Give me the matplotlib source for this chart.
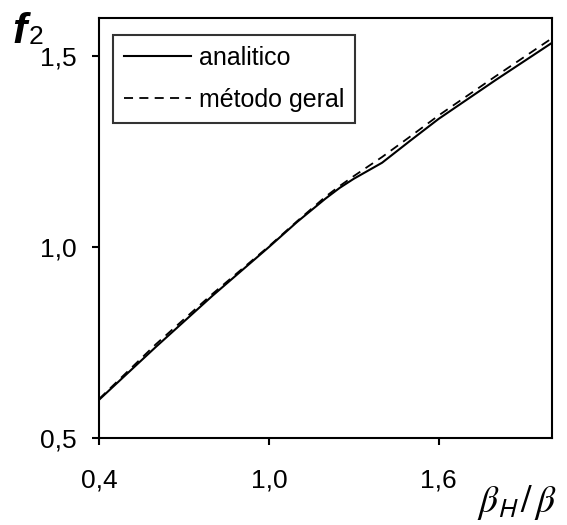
import matplotlib
matplotlib.use("Agg")
import matplotlib.pyplot as plt

plt.rcParams['font.family'] = ['Liberation Sans', 'DejaVu Sans']
plt.rcParams['mathtext.fontset'] = 'stix'

# values
beta_ratio = [0.4, 0.6, 0.8, 1.0, 1.1, 1.2, 1.25, 1.3, 1.4, 1.5, 1.6, 1.8, 2.0]
f2_analitico = [0.600, 0.738, 0.872, 1.000, 1.066, 1.127, 1.155, 1.179, 1.221, 1.279, 1.336, 1.437, 1.535]
f2_geral = [0.602, 0.745, 0.877, 1.002, 1.068, 1.132, 1.160, 1.186, 1.236, 1.290, 1.345, 1.447, 1.547]

xticks = [0.4, 1.0, 1.6]
xtick_labels = ['0,4', '1,0', '1,6']
yticks = [0.5, 1.0, 1.5]
ytick_labels = ['0,5', '1,0', '1,5']

fig = plt.figure(figsize=(5.67, 5.25), dpi=100)
ax = fig.add_axes([0.1746, 0.1657, 0.7989, 0.8000])

ax.plot(beta_ratio, f2_analitico, color='black', lw=1.5, label='analitico')
ax.plot(beta_ratio, f2_geral, color='black', lw=1.3, dashes=(5, 3.5), label='método geral')

ax.set_xlim(0.4, 2.0)
ax.set_ylim(0.5, 1.6)
ax.set_xticks(xticks)
ax.set_xticklabels(xtick_labels)
ax.set_yticks(yticks)
ax.set_yticklabels(ytick_labels)
ax.tick_params(axis='both', direction='out', length=5, width=1.5, labelsize=19, colors='black')
ax.tick_params(axis='x', pad=17)
ax.tick_params(axis='y', pad=11)
for s in ax.spines.values():
    s.set_linewidth(1.5)

leg = ax.legend(loc='upper left', bbox_to_anchor=(0.03, 0.96), fontsize=18, frameon=True,
                fancybox=False, edgecolor='black', handlelength=2.7, handletextpad=0.3,
                borderpad=0.45, labelspacing=0.7, borderaxespad=0)
leg.get_frame().set_linewidth(1.5)

fig.text(0.022, 0.918, 'f', fontsize=31, fontstyle='italic', fontweight='bold', ha='left', va='baseline')
fig.text(0.050, 0.916, '2', fontsize=19, ha='left', va='baseline')
fig.text(0.982, 0.024, r'$\beta_{\mathsf{H}}\,/\,\beta$', fontsize=27, ha='right', va='baseline')

fig.savefig('out.png', dpi=100)
